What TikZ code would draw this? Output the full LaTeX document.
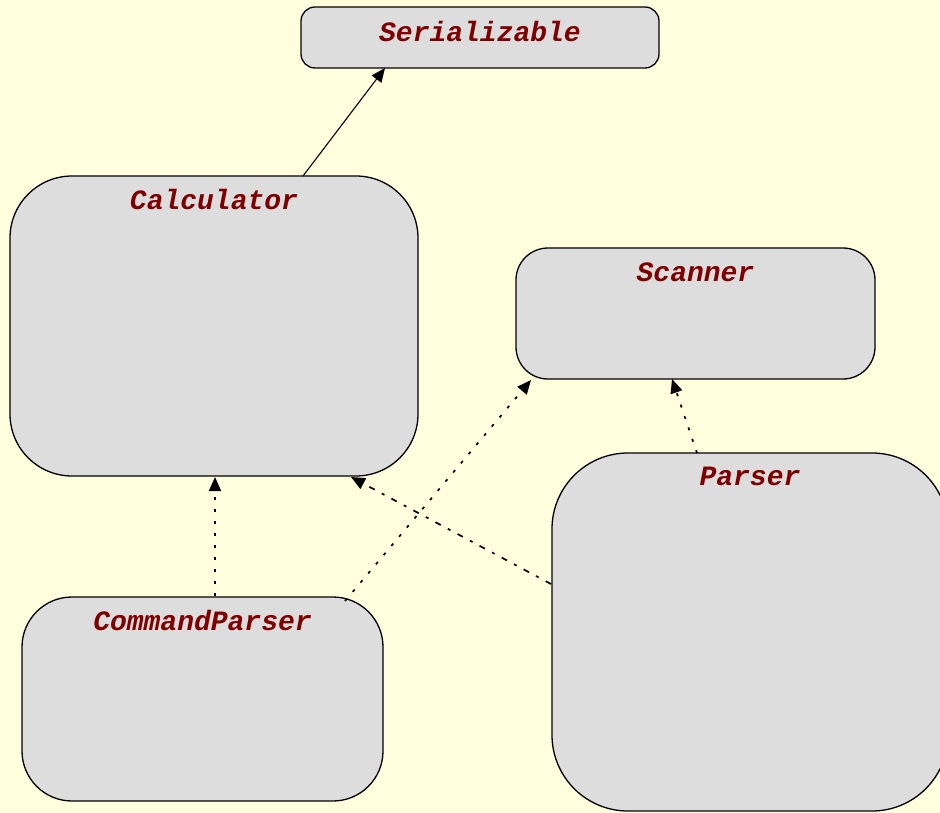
\documentclass[tikz,border=0pt]{standalone}
\usepackage{fontspec}
\newfontfamily\umlfont{Liberation Mono}
\usetikzlibrary{arrows.meta}
\definecolor{bgc}{HTML}{FFFFDD}
\definecolor{boxc}{HTML}{DDDDDD}
\definecolor{namec}{HTML}{800000}
\tikzset{
  cls/.style={draw=black, fill=boxc, line width=1.3pt, rounded corners=#1, inner sep=0pt},
  clsname/.style={font=\umlfont\bfseries\itshape\fontsize{28}{30}\selectfont, text=namec, anchor=north, inner sep=0pt},
  tip/.style={-{Triangle[length=14pt,width=12pt]}},
  inh/.style={tip, line width=1.1pt},
  dep/.style={tip, line width=1.7pt, dash pattern=on 3pt off 9pt},
  depdd/.style={tip, line width=1.7pt, dash pattern=on 6pt off 8pt on 3pt off 8pt},
}
\begin{document}
\begin{tikzpicture}[x=1pt,y=-1pt]
\clip (0,0) rectangle (940,813);
\fill[bgc] (0,0) rectangle (940,813);
% boxes
\node[cls=14pt, minimum width=358pt, minimum height=61pt] (ser) at (480,37.5) {};
\node[clsname] at ([yshift=-15pt]ser.north) {Serializable};
\node[cls=62pt, minimum width=408pt, minimum height=300pt] (calc) at (214,326) {};
\node[clsname] at ([yshift=-14pt]calc.north) {Calculator};
\node[cls=32pt, minimum width=359pt, minimum height=131pt] (scan) at (695.5,313.5) {};
\node[clsname] at ([yshift=-15pt]scan.north) {Scanner};
\node[cls=76pt, minimum width=396pt, minimum height=358pt] (pars) at (750,632) {};
\node[clsname] at ([yshift=-15pt]pars.north) {Parser};
\node[cls=50pt, minimum width=361pt, minimum height=204pt] (cmd) at (202.5,699) {};
\node[clsname] at ([yshift=-14pt]cmd.north) {CommandParser};
% connectors
\coordinate (c1) at (303,176);
\draw[inh] (c1) -- (385,68) coordinate (s1);
\draw[dep] (cmd.north -| 215,0) -- (215,477);
\draw[dep] (345,601) -- (531,380);
\draw[depdd] (551,584) -- (351,477);
\draw[dep] (697,453) -- (672,379);
\end{tikzpicture}
\end{document}
